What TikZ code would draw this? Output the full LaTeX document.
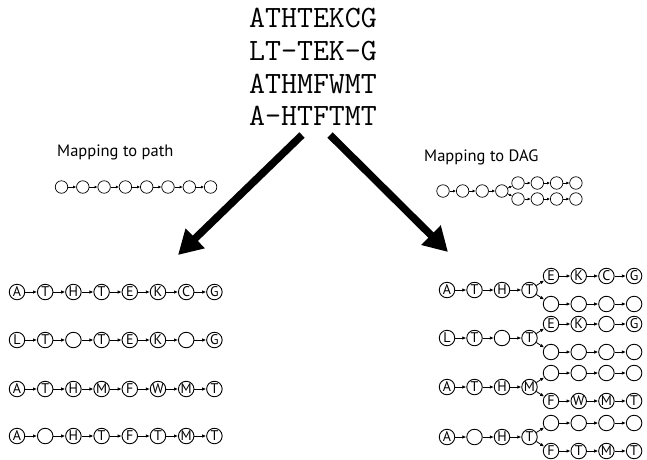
\documentclass[tikz,border=0pt]{standalone}
\usepackage{fontspec}
\setmainfont{PT Sans}
\usetikzlibrary{arrows.meta}
\begin{document}
\begin{tikzpicture}[x=1pt,y=-1pt,
 seq/.style={font=\ttfamily\addfontfeature{FakeBold=0.8}\fontsize{31}{31}\selectfont, inner sep=0pt, anchor=center},
 lbl/.style={font=\fontsize{16.5}{16.5}\selectfont, inner sep=0pt, anchor=west},
 bc/.style={circle, draw, line width=0.9pt, minimum size=15.5pt, inner sep=0pt, font=\fontsize{14}{14}\selectfont},
 tl/.style={inner sep=0pt, font=\fontsize{14}{14}\selectfont},
 sc/.style={circle, draw, line width=0.7pt, minimum size=12.5pt, inner sep=0pt},
 ba/.style={-{Latex[length=4pt,width=3.5pt]}, line width=0.8pt},
 sa/.style={-{Latex[length=3pt,width=3pt]}, line width=0.6pt},
 big/.style={-{Triangle[length=24pt,width=26pt]}, line width=7.5pt}
]
\useasboundingbox[fill=white] (0,0) rectangle (647,459);

% alignment
\node[seq] (s1) at (313,18) {ATHTEKCG};
\node[seq] (s2) at (313,51) {LT-TEK-G};
\node[seq] (s3) at (313,84) {ATHMFWMT};
\node[seq] (s4) at (313,116) {A-HTFTMT};

% labels
\node[lbl] (lp) at (57,152) {Mapping to path};
\node[lbl] (ld) at (424,157) {Mapping to DAG};

% big arrows
\coordinate (la0) at (302,135);
\coordinate (la1) at (178,255);
\coordinate (ra0) at (330,135);
\coordinate (ra1) at (448,252);
\draw[big] (la0) -- (la1);
\draw[big] (ra0) -- (ra1);

% path chain
\foreach \i in {1,...,8} \node[sc] (p\i) at ({61.5+21.3*(\i-1)},187) {};
\foreach \i in {1,...,7} {\pgfmathtruncatemacro\j{\i+1}\draw[sa] (p\i) -- (p\j);}

% DAG chain
\foreach \i in {1,...,4} \node[sc] (d\i) at ({443+19.6*(\i-1)},191) {};
\foreach \i in {1,...,4} \node[sc] (du\i) at ({518+19.3*(\i-1)},183) {};
\foreach \i in {1,...,4} \node[sc] (dd\i) at ({518+19.3*(\i-1)},199) {};
\foreach \i in {1,...,3} {\pgfmathtruncatemacro\j{\i+1}
  \draw[sa] (d\i) -- (d\j); \draw[sa] (du\i) -- (du\j); \draw[sa] (dd\i) -- (dd\j);}
\draw[sa] (d4) -- (du1);
\draw[sa] (d4) -- (dd1);

% bottom-left paths
\foreach \l [count=\i] in {A,T,H,T,E,K,C,G} \node[bc] (a\i) at ({17+28.2*(\i-1)},292) {\l};
\foreach \l [count=\i] in {L,T,{},T,E,K,{},G} \node[bc] (b\i) at ({17+28.2*(\i-1)},340) {\l};
\foreach \l [count=\i] in {A,T,H,M,F,W,M,T} \node[bc] (c\i) at ({17+28.2*(\i-1)},389) {\l};
\foreach \l [count=\i] in {A,{},H,T,F,T,M,T} \node[bc] (e\i) at ({17+28.2*(\i-1)},436) {\l};
\foreach \i in {1,...,7} {\pgfmathtruncatemacro\j{\i+1}
  \draw[ba] (a\i) -- (a\j); \draw[ba] (b\i) -- (b\j);
  \draw[ba] (c\i) -- (c\j); \draw[ba] (e\i) -- (e\j);}

% bottom-right DAGs
\foreach \r/\y in {1/290,2/338,3/387,4/437} {
  \foreach \i in {1,...,4} \node[bc] (m\r-\i) at ({447+27.5*(\i-1)},\y) {};
  \foreach \i in {1,...,4} \node[bc] (u\r-\i) at ({551+27.7*(\i-1)},\y-14) {};
  \foreach \i in {1,...,4} \node[bc] (w\r-\i) at ({551+27.7*(\i-1)},\y+14) {};
}
% labels in DAG nodes
\foreach \l [count=\i] in {A,T,H,T} \node[tl] at (m1-\i) {\l};
\foreach \l [count=\i] in {E,K,C,G} \node[tl] at (u1-\i) {\l};
\foreach \l [count=\i] in {L,T,{},T} \node[tl] at (m2-\i) {\l};
\foreach \l [count=\i] in {E,K,{},G} \node[tl] at (u2-\i) {\l};
\foreach \l [count=\i] in {A,T,H,M} \node[tl] at (m3-\i) {\l};
\foreach \l [count=\i] in {F,W,M,T} \node[tl] at (w3-\i) {\l};
\foreach \l [count=\i] in {A,{},H,T} \node[tl] at (m4-\i) {\l};
\foreach \l [count=\i] in {F,T,M,T} \node[tl] at (w4-\i) {\l};
\foreach \r in {1,...,4} {
  \foreach \i in {1,...,3} {\pgfmathtruncatemacro\j{\i+1}
    \draw[ba] (m\r-\i) -- (m\r-\j); \draw[ba] (u\r-\i) -- (u\r-\j); \draw[ba] (w\r-\i) -- (w\r-\j);}
  \draw[ba] (m\r-4) -- (u\r-1);
  \draw[ba] (m\r-4) -- (w\r-1);
}
\end{tikzpicture}
\end{document}
